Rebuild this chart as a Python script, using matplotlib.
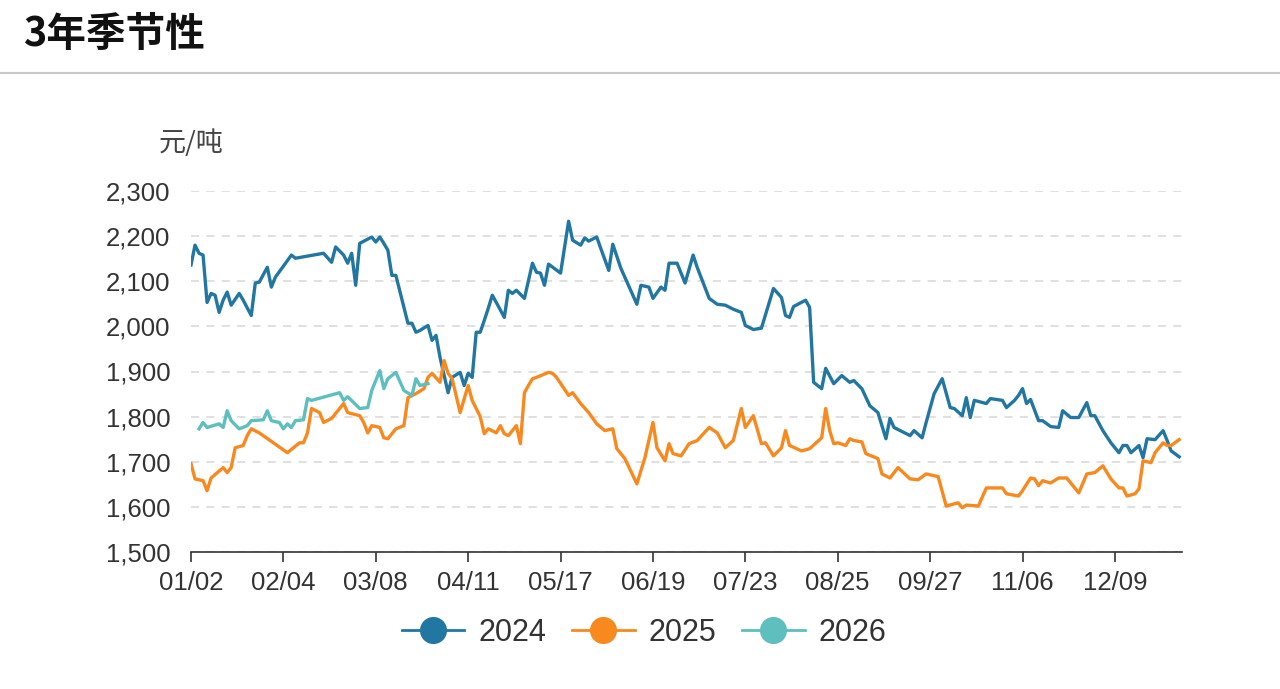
import matplotlib
matplotlib.use("Agg")
import matplotlib.pyplot as plt
from matplotlib.lines import Line2D
from matplotlib.ticker import FuncFormatter, FixedLocator

# ---------------- data ----------------
tick_labels = ["01/02", "02/04", "03/08", "04/11", "05/17", "06/19",
               "07/23", "08/25", "09/27", "11/06", "12/09"]
tick_step = 23          # trading days between tick labels
n_days = 247

x_2024 = [0, 1, 2, 3, 4, 5, 6, 7, 8, 9, 10, 12, 13, 15, 16, 17, 19, 20, 21, 25,
          26, 33, 35, 36, 38, 39, 40, 41, 42, 45, 46, 47, 48, 49, 50, 51, 54, 55,
          56, 57, 59, 60, 61, 62, 64, 65, 67, 68, 69, 70, 71, 72, 73, 74, 75, 76,
          78, 79, 80, 81, 83, 85, 86, 87, 88, 89, 92, 94, 95, 97, 98, 99, 101,
          102, 104, 105, 107, 111, 112, 114, 115, 117, 118, 119, 120, 121, 123,
          125, 126, 129, 131, 133, 135, 137, 138, 140, 142, 145, 147, 148, 149,
          150, 153, 154, 155, 157, 158, 160, 162, 164, 165, 167, 169, 171, 173,
          174, 175, 179, 180, 182, 183, 185, 187, 189, 190, 192, 193, 194, 195,
          198, 199, 202, 203, 205, 206, 207, 208, 209, 211, 212, 214, 216, 217,
          219, 221, 223, 224, 225, 227, 229, 231, 232, 233, 234, 236, 237, 238,
          240, 242, 243, 244, 246]
y_2024 = [2136, 2180, 2162, 2158, 2053, 2073, 2069, 2031, 2058, 2076, 2047, 2073,
          2058, 2024, 2096, 2098, 2131, 2087, 2109, 2158, 2151, 2162, 2142, 2176,
          2158, 2140, 2162, 2091, 2184, 2198, 2187, 2198, 2184, 2169, 2113, 2113,
          2007, 2007, 1987, 1991, 2002, 1969, 1980, 1931, 1853, 1887, 1898, 1869,
          1896, 1887, 1987, 1987, 2013, 2040, 2069, 2053, 2020, 2080, 2073, 2080,
          2062, 2140, 2120, 2118, 2091, 2138, 2118, 2233, 2191, 2180, 2196, 2189,
          2198, 2173, 2124, 2182, 2129, 2049, 2091, 2087, 2062, 2087, 2080, 2140,
          2140, 2140, 2096, 2158, 2131, 2062, 2049, 2047, 2038, 2031, 2002, 1993,
          1996, 2084, 2064, 2024, 2020, 2044, 2058, 2042, 1876, 1862, 1907, 1873,
          1891, 1876, 1880, 1862, 1824, 1809, 1751, 1796, 1776, 1758, 1769, 1753,
          1787, 1851, 1884, 1820, 1818, 1802, 1842, 1798, 1836, 1829, 1840, 1836,
          1820, 1836, 1847, 1862, 1829, 1838, 1791, 1791, 1778, 1776, 1813, 1798,
          1798, 1831, 1802, 1802, 1769, 1742, 1720, 1736, 1736, 1720, 1736, 1709,
          1751, 1749, 1769, 1747, 1724, 1711]

x_2025 = [0, 1, 3, 4, 5, 8, 9, 10, 11, 13, 14, 15, 17, 24, 27, 28, 29, 30, 32,
          33, 35, 38, 39, 42, 43, 44, 45, 47, 48, 49, 51, 53, 54, 56, 58, 59, 60,
          62, 63, 64, 65, 67, 69, 70, 72, 73, 74, 76, 77, 78, 79, 81, 82, 83, 84,
          85, 86, 89, 90, 91, 94, 95, 97, 99, 101, 103, 105, 106, 108, 111, 113,
          115, 116, 118, 119, 120, 122, 124, 126, 129, 131, 133, 135, 137, 138,
          140, 142, 143, 145, 147, 148, 149, 152, 154, 157, 158, 159, 160, 161,
          163, 164, 165, 167, 168, 171, 172, 174, 176, 179, 181, 183, 186, 188,
          191, 192, 193, 196, 198, 201, 202, 203, 206, 207, 209, 210, 211, 212,
          214, 216, 218, 221, 223, 225, 227, 229, 231, 232, 233, 235, 236, 237,
          239, 240, 242, 243, 244, 246]
y_2025 = [1696, 1662, 1658, 1636, 1664, 1687, 1676, 1687, 1731, 1736, 1758, 1773,
          1764, 1720, 1742, 1742, 1764, 1818, 1809, 1787, 1796, 1829, 1809, 1802,
          1787, 1764, 1780, 1776, 1753, 1751, 1773, 1780, 1842, 1851, 1862, 1887,
          1896, 1876, 1924, 1896, 1884, 1809, 1869, 1836, 1800, 1762, 1773, 1764,
          1780, 1762, 1758, 1780, 1740, 1853, 1869, 1884, 1887, 1898, 1896, 1887,
          1847, 1853, 1829, 1809, 1784, 1769, 1773, 1729, 1707, 1651, 1709, 1787,
          1731, 1702, 1740, 1718, 1713, 1740, 1747, 1776, 1764, 1731, 1747, 1818,
          1776, 1802, 1740, 1742, 1713, 1731, 1769, 1736, 1724, 1729, 1753, 1818,
          1769, 1740, 1742, 1736, 1751, 1747, 1744, 1718, 1707, 1673, 1664, 1687,
          1662, 1660, 1673, 1667, 1602, 1609, 1598, 1604, 1602, 1642, 1642, 1642,
          1629, 1624, 1636, 1664, 1662, 1647, 1658, 1653, 1664, 1664, 1631, 1673,
          1676, 1691, 1662, 1642, 1642, 1624, 1629, 1640, 1702, 1698, 1720, 1742,
          1736, 1736, 1749]

x_2026 = [2, 3, 4, 7, 8, 9, 10, 12, 14, 15, 18, 19, 20, 22, 23, 24, 25, 26, 28,
          29, 30, 37, 38, 39, 42, 44, 45, 47, 48, 49, 51, 53, 55, 56, 57, 59]
y_2026 = [1773, 1787, 1776, 1784, 1776, 1813, 1791, 1773, 1780, 1791, 1793, 1813,
          1791, 1787, 1773, 1784, 1776, 1791, 1793, 1840, 1836, 1853, 1836, 1844,
          1818, 1820, 1858, 1902, 1862, 1884, 1898, 1858, 1847, 1884, 1869, 1873]

series = [("2024", x_2024, y_2024, "#2176a2"),
          ("2025", x_2025, y_2025, "#f7891e"),
          ("2026", x_2026, y_2026, "#5ebfbe")]

title = "3年季节性"
unit = "元/吨"

# ---------------- figure ----------------
W, H = 1280, 689
fig = plt.figure(figsize=(W / 100, H / 100), dpi=100)
cjk = ["Noto Sans CJK SC", "DejaVu Sans"]
num_font = ["Liberation Sans", "DejaVu Sans"]

ax = fig.add_axes([191 / W, 1 - 552 / H, (1182 - 191) / W, (552 - 191) / H])

for name, xs, ys, col in series:
    ax.plot(xs, ys, color=col, lw=2.4, solid_joinstyle="round", zorder=3)

ax.set_xlim(0, 246.7)
ax.set_ylim(1500, 2300)
ax.yaxis.set_major_locator(FixedLocator(list(range(1500, 2301, 100))))
ax.yaxis.set_major_formatter(FuncFormatter(lambda v, p: f"{int(v):,}"))
ax.set_xticks([i * tick_step for i in range(len(tick_labels))])
ax.set_xticklabels(tick_labels)

for s in ["top", "right", "left"]:
    ax.spines[s].set_visible(False)
ax.spines["bottom"].set_color("#333333")
ax.spines["bottom"].set_linewidth(1.2)
ax.spines["bottom"].set_zorder(4)

ax.tick_params(axis="y", length=0, pad=15, labelsize=18.5, labelcolor="#333333")
ax.tick_params(axis="x", length=7.5, width=1.2, color="#333333", pad=6,
               labelsize=18.5, labelcolor="#333333", direction="out")
for lab in ax.get_xticklabels() + ax.get_yticklabels():
    lab.set_family(num_font)

ax.yaxis.grid(True, color="#dddddd", lw=1.3, linestyle=(0, (4.5, 4)))
ax.set_axisbelow(True)

# title and separator
fig.text(23 / W, 1 - 35 / H, title, fontsize=28.5, fontweight="bold",
         family=cjk, color="#111111", va="center", ha="left")
fig.add_artist(Line2D([0, 1], [1 - 73 / H, 1 - 73 / H], transform=fig.transFigure,
                      color="#c8c8c8", lw=1.5))

# unit label
fig.text(191 / W, 1 - 143 / H, unit, fontsize=19.5, family=cjk, color="#444444",
         ha="center", va="center")

# legend
handles = [Line2D([], [], color=c, lw=2, marker="o", markersize=19.5,
                  markeredgewidth=0) for _, _, _, c in series]
leg = fig.legend(handles, [s[0] for s in series], loc="center",
                 bbox_to_anchor=(644 / W, 1 - 633 / H), ncol=3, frameon=False,
                 handlelength=2.05, handletextpad=0.45, columnspacing=0.85,
                 prop={"family": num_font, "size": 22})
for t in leg.get_texts():
    t.set_color("#333333")

fig.savefig("out.png", dpi=100)
